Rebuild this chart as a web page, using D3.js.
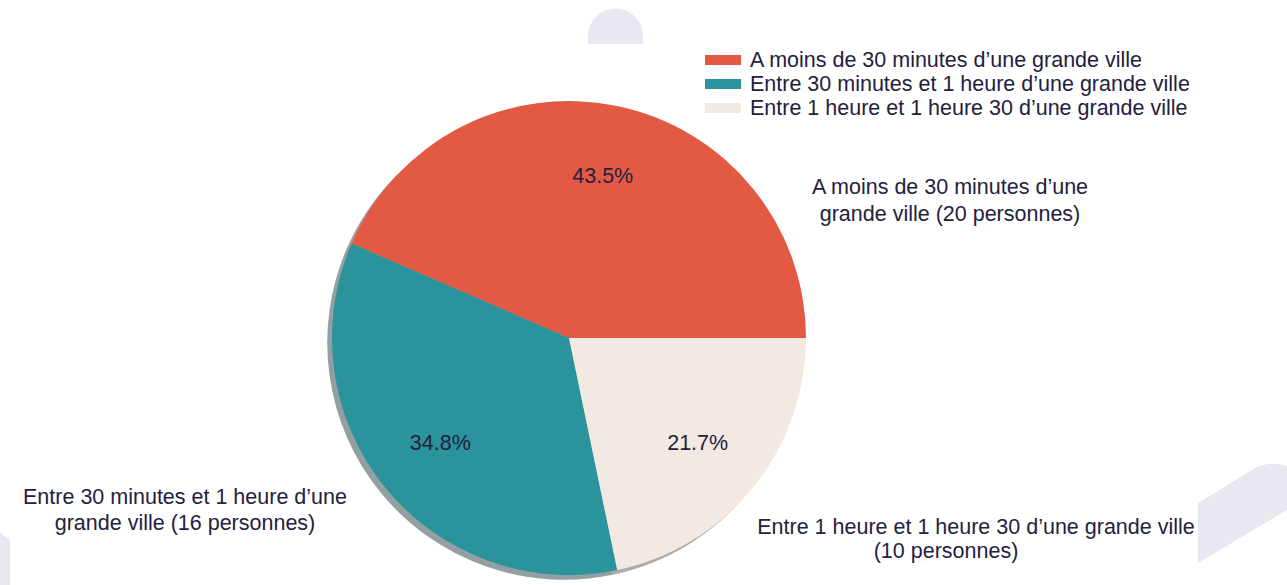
<!DOCTYPE html>
<html><head><meta charset="utf-8">
<script src="https://cdn.jsdelivr.net/npm/d3@7"></script>
<style>html,body{margin:0;padding:0;background:#fff;}svg{display:block;font-family:"Liberation Sans",Arial,sans-serif;}</style>
</head><body>
<svg id="chart" width="1287" height="585"></svg>
<script>
const categories = [
  "A moins de 30 minutes d\u2019une grande ville",
  "Entre 30 minutes et 1 heure d\u2019une grande ville",
  "Entre 1 heure et 1 heure 30 d\u2019une grande ville"
];
const persons = [20, 16, 10];
const colors = ["#E35A44", "#2A939C", "#F2E9E3"];
const outerLabels = [
  ["A moins de 30 minutes d\u2019une", "grande ville (20 personnes)"],
  ["Entre 30 minutes et 1 heure d\u2019une", "grande ville (16 personnes)"],
  ["Entre 1 heure et 1 heure 30 d\u2019une grande ville", "(10 personnes)"]
];
const outerLabelPos = [[950, 187, 950, 214], [185, 497, 185, 523], [976, 527, 946, 551]];

const svg = d3.select("#chart");
const textColor = "#24213F";
const fs = 21.5;

// decorative background shapes
const deco = svg.append("g").attr("fill", "#E9E8F0");
deco.append("path").attr("d", "M588,44 L588,36 A27.5,27.5 0 0 1 643,36 L643,44 Z");
deco.append("path").attr("d", "M1198,503 L1252,470 Q1268,460 1287,466 L1287,510 L1198,563 Z");
deco.append("path").attr("d", "M0,533 L10,540 L10,585 L0,585 Z");

const cx = 569, cy = 338, R = 237;
const total = d3.sum(persons);
const pie = d3.pie().sort(null).value(d => d)
  .startAngle(Math.PI / 2).endAngle(Math.PI / 2 - 2 * Math.PI);
const arcs = pie(persons);
const arc = d3.arc().innerRadius(0).outerRadius(R);
const pctArc = d3.arc().innerRadius(R * 0.7).outerRadius(R * 0.7);

// shadow
const off = 0.02 * R;
svg.append("g").attr("transform", `translate(${cx - off},${cy + off})`)
  .selectAll("path").data(arcs).join("path")
  .attr("d", arc)
  .attr("fill", (d, i) => { const c = d3.rgb(colors[i]); return d3.rgb(c.r * 0.3, c.g * 0.3, c.b * 0.3); })
  .attr("fill-opacity", 0.45);

const g = svg.append("g").attr("transform", `translate(${cx},${cy})`);
g.selectAll("path.slice").data(arcs).join("path").attr("class", "slice")
  .attr("d", arc).attr("fill", (d, i) => colors[i]);

g.selectAll("text.pct").data(arcs).join("text").attr("class", "pct")
  .attr("x", d => pctArc.centroid(d)[0])
  .attr("y", d => pctArc.centroid(d)[1])
  .attr("text-anchor", "middle").attr("dominant-baseline", "central")
  .attr("font-size", fs).attr("fill", textColor)
  .text(d => (d.value / total * 100).toFixed(1) + "%");

// outer labels
outerLabels.forEach((lines, i) => {
  const p = outerLabelPos[i];
  lines.forEach((t, j) => {
    svg.append("text").attr("x", p[j * 2]).attr("y", p[j * 2 + 1])
      .attr("text-anchor", "middle").attr("dominant-baseline", "central")
      .attr("font-size", fs).attr("fill", textColor).text(t);
  });
});

// legend
const lg = svg.append("g").attr("transform", "translate(705,60)");
categories.forEach((c, i) => {
  lg.append("rect").attr("x", 0).attr("y", i * 24 - 5).attr("width", 36).attr("height", 10)
    .attr("fill", colors[i]);
  lg.append("text").attr("x", 45).attr("y", i * 24).attr("dominant-baseline", "central")
    .attr("font-size", fs).attr("fill", textColor).text(c);
});
</script>
</body></html>
